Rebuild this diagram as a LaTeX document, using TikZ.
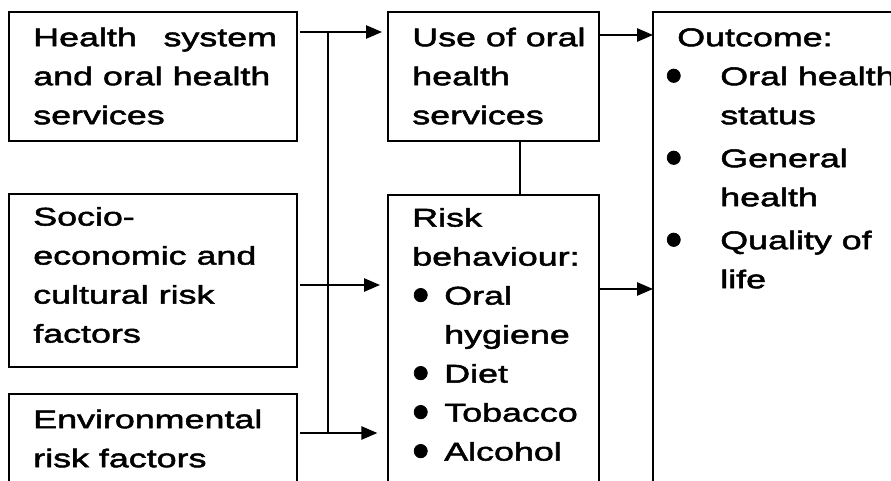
\documentclass[tikz,border=0pt]{standalone}
\usepackage{fontspec}
\setmainfont{Liberation Sans}[FakeStretch=1.4,FakeBold=2]
\usetikzlibrary{arrows.meta}

% bullet with hanging indent
\newcommand{\dotmark}{\smash{\raisebox{-5pt}{\scalebox{1.35}[1.9]{\textbullet}}}}
\newcommand{\bul}{\makebox[24pt][l]{\dotmark}}
\newcommand{\outbul}{\hspace*{-9pt}\makebox[41.25pt][l]{\dotmark}}

\begin{document}
\begin{tikzpicture}[
    % one unit is one pixel of the original figure, y grows downwards
    x=0.75pt, y=-0.75pt,
    box/.style={draw=black, line width=1.5pt, anchor=north west, outer sep=0pt, inner sep=0pt},
    txt/.style={anchor=north west, align=left, inner sep=0pt, font=\fontsize{19.2}{29.25}\selectfont},
    arrow/.style={line width=1.2pt, -{Triangle[length=12pt,width=10pt]}},
    link/.style={line width=1.2pt}
]
\useasboundingbox (0,0) rectangle (891,481);

%% ── Boxes ───────────────────────────────────────────────────
\node (hs)   [box, minimum width=216pt,    minimum height=96.75pt]  at (9,12)   {};
\node (se)   [box, minimum width=216pt,    minimum height=129.75pt] at (9,194)  {};
\node (env)  [box, minimum width=216pt,    minimum height=75pt]     at (9,394)  {};
\node (use)  [box, minimum width=158.25pt, minimum height=96.75pt]  at (388,12) {};
\node (risk) [box, minimum width=158.25pt, minimum height=225pt]    at (388,195) {};
\node (out)  [box, minimum width=195pt,    minimum height=367.5pt]  at (653,12) {};

%% ── Texts ───────────────────────────────────────────────────
\node (hstxt) [txt] at ([xshift=18pt,yshift=-5pt]hs.north west)
    {\strut Health\hspace{20pt}system\\and oral health\\services};
\node (setxt) [txt] at ([xshift=18pt,yshift=-3pt]se.north west)
    {\strut Socio-\\economic and\\cultural risk\\factors};
\node (envtxt) [txt] at ([xshift=18pt,yshift=-5pt]env.north west)
    {\strut Environmental\\risk factors};
\node (usetxt) [txt] at ([xshift=18pt,yshift=-5pt]use.north west)
    {\strut Use of oral\\health\\services};
\node (risktxt) [txt] at ([xshift=18pt,yshift=-3pt]risk.north west)
    {\strut Risk\\behaviour:\\\bul Oral\\\hspace*{24pt}hygiene\\\bul Diet\\\bul Tobacco\\\bul Alcohol};
\node (outtxt) [txt] at ([xshift=18pt,yshift=-5pt]out.north west)
    {\strut Outcome:\\
     \outbul Oral health\\
     \hspace*{32.25pt}status\\[3pt]
     \outbul General\\
     \hspace*{32.25pt}health\\[3pt]
     \outbul Quality of\\
     \hspace*{32.25pt}life};

%% ── Connectors ──────────────────────────────────────────────
\coordinate (trunktop) at (328,32);
\coordinate (trunkbot) at (328,433);
\draw [arrow, shorten <=2pt, shorten >=4.5pt] (hs.east |- trunktop) -- (use.west |- trunktop);
\draw [link] (trunktop) -- (trunkbot);
\draw [arrow, shorten <=2pt, shorten >=6pt] (se.east |- 0,285) -- (risk.west |- 0,285);
\draw [arrow, shorten <=2pt, shorten >=8pt] (env.east |- trunkbot) -- (risk.west |- trunkbot);
\draw [link] (use.south -| 520,0) -- (risk.north -| 520,0);
\draw [arrow] (use.east |- 0,35) -- (out.west |- 0,35);
\draw [arrow] (risk.east |- 0,289) -- (out.west |- 0,289);

\end{tikzpicture}
\end{document}
